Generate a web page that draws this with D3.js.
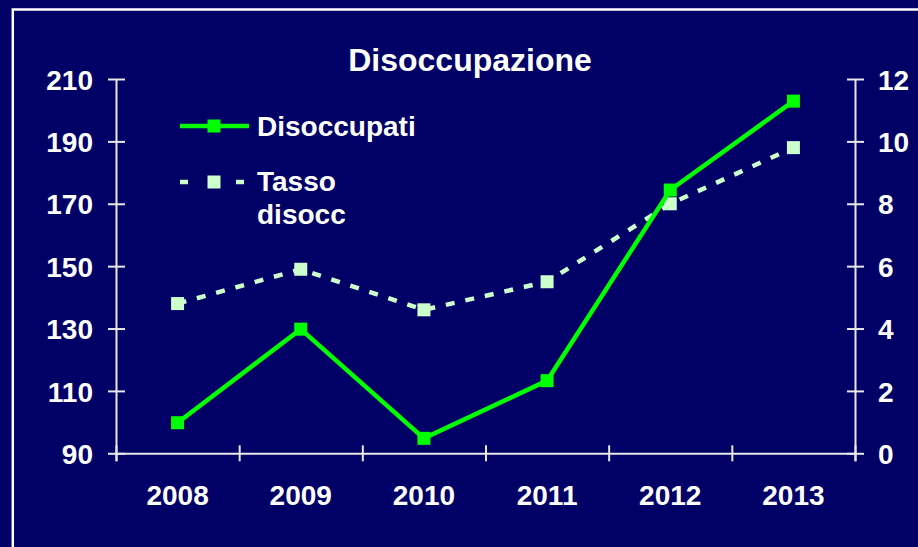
<!DOCTYPE html>
<html>
<head>
<meta charset="utf-8">
<script src="https://cdn.jsdelivr.net/npm/d3@7"></script>
<style>
  body { margin: 0; background: #000066; }
  text { font-family: "Liberation Sans", Arial, sans-serif; font-weight: bold; fill: #ffffff; }
</style>
</head>
<body>
<div id="chart"></div>
<script>
// dati
var anni = ["2008", "2009", "2010", "2011", "2012", "2013"];
var disoccupati = [99.8, 129.8, 94.8, 113.3, 174.4, 202.9];
var tasso = [4.8, 5.9, 4.6, 5.5, 8.0, 9.8];
var ticksSx = [90, 110, 130, 150, 170, 190, 210];
var ticksDx = [0, 2, 4, 6, 8, 10, 12];

var svgWidth = 918;
var svgHeight = 547;

var x0 = 116, x1 = 855, yTop = 79, yBottom = 453.3;

var svg = d3.select("#chart")
    .append("svg")
    .attr("width", svgWidth)
    .attr("height", svgHeight)
    .style("display", "block");

svg.append("rect")
    .attr("width", svgWidth)
    .attr("height", svgHeight)
    .attr("fill", "#000066");

// cornice bianca (esce dal bordo destro e inferiore)
svg.append("rect")
    .attr("x", 12.8)
    .attr("y", 9.5)
    .attr("width", 920)
    .attr("height", 560)
    .attr("fill", "none")
    .attr("stroke", "#ffffff")
    .attr("stroke-width", 2.5);

// scale
var xBand = d3.scaleBand().domain(anni).range([x0, x1]).padding(0);
var xEdge = d3.scaleLinear().domain([0, anni.length]).range([x0, x1]);
var yL = d3.scaleLinear().domain([90, 210]).range([yBottom, yTop]);
var yR = d3.scaleLinear().domain([0, 12]).range([yBottom, yTop]);

var axisColor = "#e8e8e8";

function styleAxis(g) {
    g.select(".domain").attr("stroke", axisColor).attr("stroke-width", 2);
    g.selectAll(".tick line").attr("stroke", axisColor).attr("stroke-width", 2);
    g.selectAll(".tick text")
        .style("font-size", "28px")
        .style("font-family", "'Liberation Sans', Arial, sans-serif")
        .style("font-weight", "bold")
        .attr("fill", "#ffffff");
}

// asse x
var xAxis = svg.append("g")
    .attr("transform", `translate(0, ${yBottom})`)
    .call(d3.axisBottom(xEdge).tickValues(d3.range(anni.length + 1)).tickFormat("").tickSizeOuter(0).tickSize(8))
    .call(styleAxis);
xAxis.selectAll(".tick line").attr("y1", -8).attr("y2", 8);

svg.append("g")
    .selectAll("text")
    .data(anni)
    .enter()
    .append("text")
    .attr("x", d => xBand(d) + xBand.bandwidth() / 2)
    .attr("y", 505)
    .attr("text-anchor", "middle")
    .style("font-size", "28px")
    .text(d => d);

// asse sinistro
var leftAxis = svg.append("g")
    .attr("transform", `translate(${x0}, 0)`)
    .call(d3.axisLeft(yL).tickValues(ticksSx).tickSize(8).tickSizeOuter(0).tickPadding(15))
    .call(styleAxis);
leftAxis.selectAll(".tick line").attr("x1", 9);
leftAxis.selectAll(".tick text").attr("dy", "0.36em");

// asse destro
var rightAxis = svg.append("g")
    .attr("transform", `translate(${x1}, 0)`)
    .call(d3.axisRight(yR).tickValues(ticksDx).tickSize(9).tickSizeOuter(0).tickPadding(14))
    .call(styleAxis);
rightAxis.selectAll(".tick line").attr("x1", -8);
rightAxis.selectAll(".tick text").attr("dy", "0.36em");

// titolo
svg.append("text")
    .attr("x", 470)
    .attr("y", 70.5)
    .attr("text-anchor", "middle")
    .style("font-size", "32px")
    .text("Disoccupazione");

var cx = (d, i) => xBand(anni[i]) + xBand.bandwidth() / 2;

// Tasso disocc (asse destro)
var lineaTasso = d3.line()
    .x((d, i) => cx(d, i))
    .y(d => yR(d));

svg.append("path")
    .datum(tasso)
    .attr("d", lineaTasso)
    .attr("fill", "none")
    .attr("stroke", "#ccffcc")
    .attr("stroke-width", 4.5)
    .attr("stroke-dasharray", "9,11");

svg.append("g")
    .selectAll("rect")
    .data(tasso)
    .enter()
    .append("rect")
    .attr("x", (d, i) => cx(d, i) - 6.5)
    .attr("y", d => yR(d) - 6.5)
    .attr("width", 13)
    .attr("height", 13)
    .attr("fill", "#ccffcc");

// Disoccupati (asse sinistro)
var lineaDisocc = d3.line()
    .x((d, i) => cx(d, i))
    .y(d => yL(d));

svg.append("path")
    .datum(disoccupati)
    .attr("d", lineaDisocc)
    .attr("fill", "none")
    .attr("stroke", "#00ff00")
    .attr("stroke-width", 4.5);

svg.append("g")
    .selectAll("rect")
    .data(disoccupati)
    .enter()
    .append("rect")
    .attr("x", (d, i) => cx(d, i) - 6.5)
    .attr("y", d => yL(d) - 6.5)
    .attr("width", 13)
    .attr("height", 13)
    .attr("fill", "#00ff00");

// legenda
var legend = svg.append("g");

legend.append("line")
    .attr("x1", 180).attr("x2", 249)
    .attr("y1", 126).attr("y2", 126)
    .attr("stroke", "#00ff00")
    .attr("stroke-width", 4.5);
legend.append("rect")
    .attr("x", 214 - 6.5).attr("y", 126 - 6.5)
    .attr("width", 13).attr("height", 13)
    .attr("fill", "#00ff00");
legend.append("text")
    .attr("x", 257).attr("y", 136)
    .style("font-size", "28px")
    .text("Disoccupati");

legend.append("line")
    .attr("x1", 180).attr("x2", 248)
    .attr("y1", 182).attr("y2", 182)
    .attr("stroke", "#ccffcc")
    .attr("stroke-width", 4.5)
    .attr("stroke-dasharray", "8,20");
legend.append("rect")
    .attr("x", 214 - 6.5).attr("y", 182 - 6.5)
    .attr("width", 13).attr("height", 13)
    .attr("fill", "#ccffcc");
legend.append("text")
    .attr("x", 257).attr("y", 191)
    .style("font-size", "28px")
    .text("Tasso");
legend.append("text")
    .attr("x", 257).attr("y", 224)
    .style("font-size", "28px")
    .text("disocc");
</script>
</body>
</html>
